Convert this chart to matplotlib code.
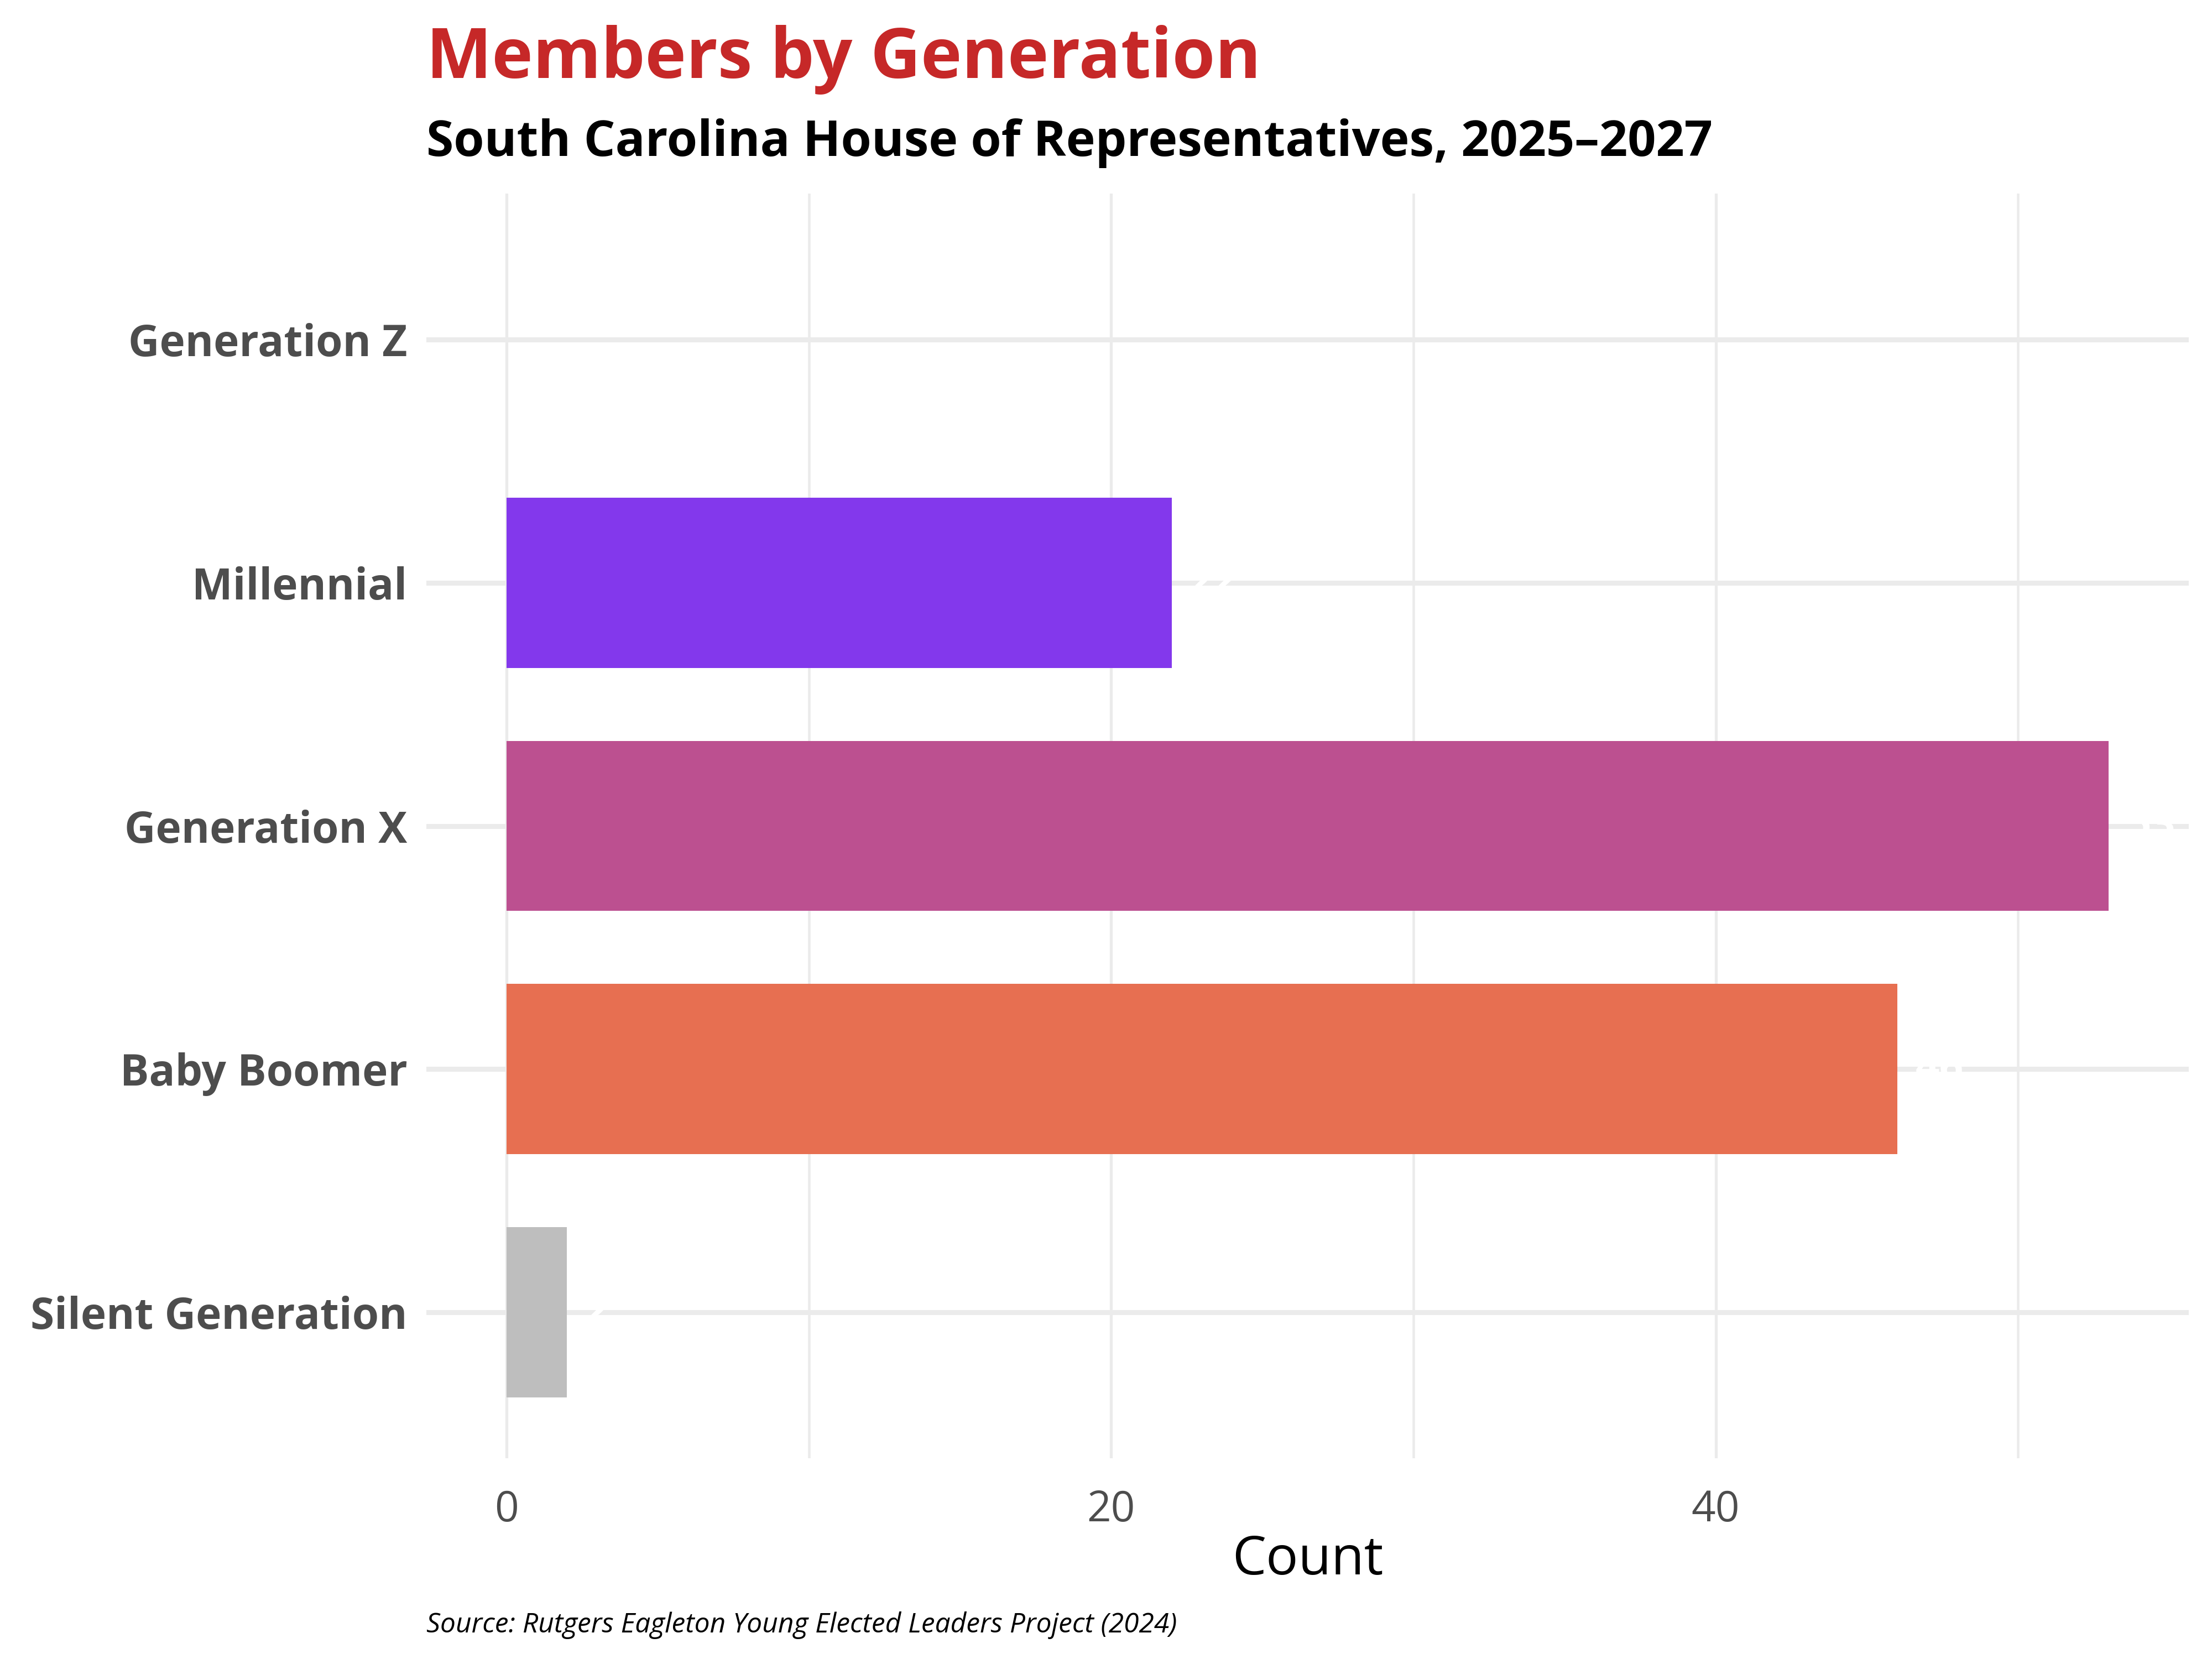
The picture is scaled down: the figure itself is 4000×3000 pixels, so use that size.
import matplotlib.pyplot as plt
from matplotlib.ticker import MultipleLocator

plt.rcParams['font.family'] = ['Open Sans', 'DejaVu Sans']

# data (top to bottom)
generations = ["Generation Z", "Millennial", "Generation X", "Baby Boomer", "Silent Generation"]
counts = [0, 22, 53, 46, 2]
colors = ["#8338EC", "#8338EC", "#BC5090", "#E76F51", "#BEBEBE"]

title = "Members by Generation"
subtitle = "South Carolina House of Representatives, 2025\u20132027"
caption = "Source: Rutgers Eagleton Young Elected Leaders Project (2024)"

fig = plt.figure(figsize=(16, 12), dpi=250)
ax = fig.add_axes([0.1928, 0.121, 0.7967, 0.7623])

# reverse so first category sits on top
ypos = list(range(len(generations)))[::-1]
ax.barh(ypos, counts, height=0.7, color=colors, zorder=2)

# white value labels (mostly invisible, they just knock out the grid)
for y, c in zip(ypos, counts):
    if c == 0:
        continue
    ax.text(c + 0.6, y, str(c), color="white", fontsize=22, fontweight="bold",
            va="center", ha="left", zorder=3)

ax.set_yticks(ypos)
ax.set_yticklabels(generations, fontsize=22.5, fontweight="bold", color="#4D4D4D")
ax.set_ylim(-0.6, len(generations) - 1 + 0.6)

ax.set_xlim(-2.65, 55.65)
ax.xaxis.set_major_locator(MultipleLocator(20))
ax.xaxis.set_minor_locator(MultipleLocator(10))
ax.tick_params(axis="x", which="both", length=0, pad=16, labelsize=22, labelcolor="#4D4D4D")
ax.tick_params(axis="y", length=0, pad=10)

ax.grid(axis="y", color="#EBEBEB", linewidth=2.6, zorder=0)
ax.grid(axis="x", which="major", color="#EBEBEB", linewidth=1.5, zorder=0)
ax.grid(axis="x", which="minor", color="#EBEBEB", linewidth=1.3, zorder=0)
ax.set_axisbelow(True)
for s in ax.spines.values():
    s.set_visible(False)

ax.set_xlabel("Count", fontsize=28, labelpad=1)

fig.text(0.1928, 0.953, title, fontsize=36.2, fontweight="bold", color="#C62828", va="baseline")
fig.text(0.1928, 0.906, subtitle, fontsize=25.8, fontweight="bold", color="black", va="baseline")
fig.text(0.1928, 0.016, caption, fontsize=14.3, style="italic", color="black", va="baseline")

fig.savefig("out.png", dpi=250, facecolor="white")
